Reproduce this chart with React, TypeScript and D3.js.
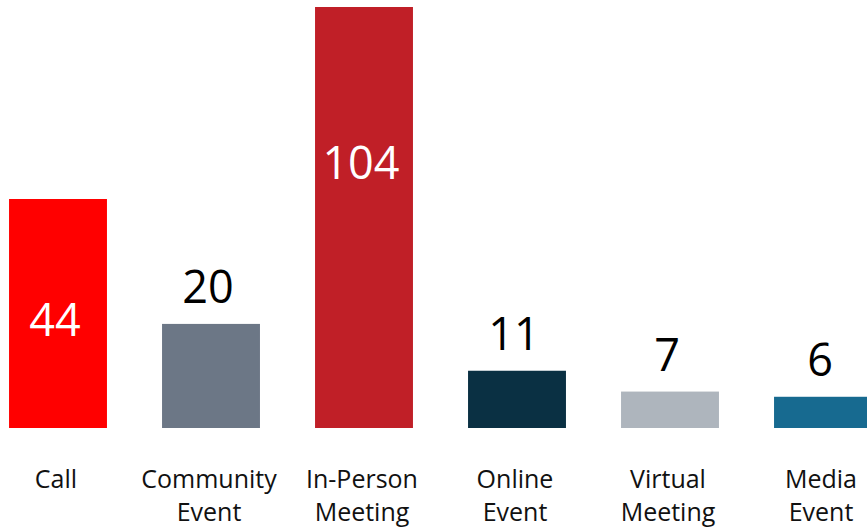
import React from "react";
import * as d3 from "d3";

const categories = ["Call", "Community Event", "In-Person Meeting", "Online Event", "Virtual Meeting", "Media Event"];
const labelLines = [["Call"], ["Community", "Event"], ["In-Person", "Meeting"], ["Online", "Event"], ["Virtual", "Meeting"], ["Media", "Event"]];
const values = [44, 20, 104, 11, 7, 6];
const colors = ["#FF0000", "#6C7786", "#C01F27", "#0A3043", "#AEB5BD", "#176A90"];

const W = 867;
const H = 527;
const PLOT_TOP = 7;
const FONT = "'Open Sans', 'Noto Sans', sans-serif";

export default function App() {
  const x = d3
    .scaleBand<string>()
    .domain(categories)
    .range([-18.5, 899.5])
    .paddingInner(0.36)
    .paddingOuter(0.18);
  const y = d3.scaleLinear().domain([0, 44]).range([428, 199]);
  const bw = x.bandwidth();

  return (
    <svg
      width={W}
      height={H}
      style={{ position: "absolute", left: 0, top: 0, background: "#fff" }}
      fontFamily={FONT}
    >
      <defs>
        <clipPath id="plotClip">
          <rect x={0} y={PLOT_TOP} width={W} height={H - PLOT_TOP} />
        </clipPath>
      </defs>
      <rect x={0} y={0} width={W} height={H} fill="#fff" />
      {categories.map((c, i) => {
        const v = values[i];
        const x0 = x(c)!;
        const top = y(v);
        const base = y(0);
        const inside = v >= 40;
        const cx = x0 + bw / 2;
        return (
          <g key={c}>
            <rect x={x0} y={top} width={bw} height={base - top} fill={colors[i]} clipPath="url(#plotClip)" />
            <text
              x={cx - 3}
              y={inside ? (top + base) / 2 + 22 : top - 21}
              textAnchor="middle"
              fontSize={45}
              fill={inside ? "#fff" : "#000"}
            >
              {v}
            </text>
            {labelLines[i].map((ln, j) => (
              <text key={j} x={cx - 2} y={488 + j * 33} textAnchor="middle" fontSize={25} fill="#111">
                {ln}
              </text>
            ))}
          </g>
        );
      })}
    </svg>
  );
}
